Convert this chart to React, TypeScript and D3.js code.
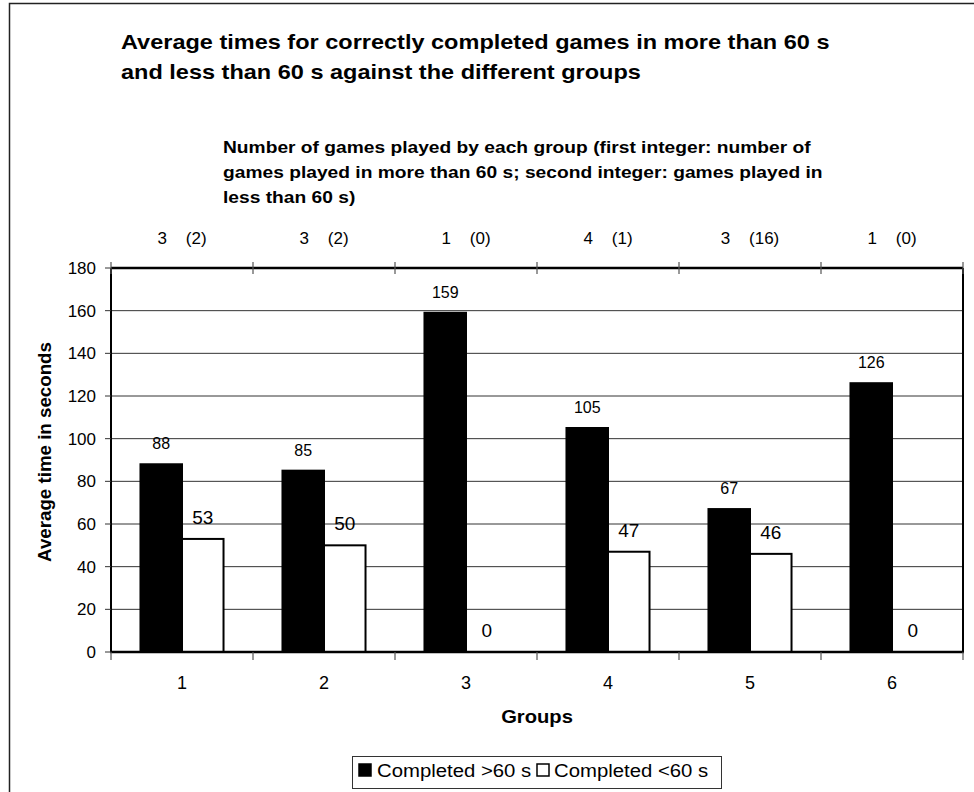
import React from "react";
import * as d3 from "d3";

// chart values
const groups = ["1", "2", "3", "4", "5", "6"];
const seriesNames = ["Completed >60 s", "Completed <60 s"];
const over60 = [88, 85, 159, 105, 67, 126];
const under60 = [53, 50, 0, 47, 46, 0];
const gamesOver = [3, 3, 1, 4, 3, 1];
const gamesUnder = [2, 2, 0, 1, 16, 0];
const yTicks = [0, 20, 40, 60, 80, 100, 120, 140, 160, 180];

const titleLines = [
  "Average times for correctly completed games in more than 60 s",
  "and less than 60 s against the different groups",
];
const subtitleLines = [
  "Number of games played by each group (first integer: number of",
  "games played in more than 60 s; second integer: games played in",
  "less than 60 s)",
];

const W = 974;
const H = 792;
const plot = { left: 111, right: 963, top: 268, bottom: 652 };
const font = "Arial, 'Liberation Sans', Helvetica, sans-serif";

// the source renders its word labels a little wider than Arial, so stretch them in x
const Wide: React.FC<{
  x: number;
  y: number;
  sx: number;
  size: number;
  bold?: boolean;
  anchor?: "start" | "middle" | "end";
  rotate?: number;
  children: React.ReactNode;
}> = ({ x, y, sx, size, bold, anchor = "start", rotate = 0, children }) => (
  <text
    transform={`translate(${x},${y}) rotate(${rotate}) scale(${sx},1)`}
    fontSize={size}
    fontWeight={bold ? "bold" : "normal"}
    textAnchor={anchor}
    fill="#000"
  >
    {children}
  </text>
);

const App: React.FC = () => {
  const x = d3.scaleBand<string>().domain(groups).range([plot.left, plot.right]).padding(0);
  const inner = d3
    .scaleBand<string>()
    .domain(seriesNames)
    .range([0, x.bandwidth()])
    .paddingInner(0)
    .paddingOuter(0.71);
  const y = d3.scaleLinear().domain([0, 180]).range([plot.bottom, plot.top]);

  const bars = groups.flatMap((g, i) => [
    { g, s: seriesNames[0], v: over60[i] },
    { g, s: seriesNames[1], v: under60[i] },
  ]);

  const boundaries = d3.range(groups.length + 1).map((i) => plot.left + i * x.step());

  return (
    <svg
      width={W}
      height={H}
      style={{ position: "absolute", left: 0, top: 0, background: "#fff" }}
      fontFamily={font}
    >
      <rect x={9.5} y={3.5} width={1000} height={1000} fill="#fff" stroke="#222" strokeWidth={1.5} />

      {/* titles */}
      {titleLines.map((t, i) => (
        <Wide key={t} x={121} y={49 + i * 30} sx={1.12} size={21} bold>
          {t}
        </Wide>
      ))}
      {subtitleLines.map((t, i) => (
        <Wide key={t} x={223} y={153 + i * 25} sx={1.13} size={17} bold>
          {t}
        </Wide>
      ))}

      {/* grid */}
      {yTicks
        .filter((t) => t > 0 && t < 180)
        .map((t) => (
          <line key={t} x1={plot.left} x2={plot.right} y1={y(t)} y2={y(t)} stroke="#333" strokeWidth={1} />
        ))}

      {/* bars */}
      {bars.map((b) => {
        const bx = (x(b.g) ?? 0) + (inner(b.s) ?? 0);
        const black = b.s === seriesNames[0];
        return (
          <g key={b.g + b.s}>
            <rect
              x={bx}
              y={y(b.v)}
              width={inner.bandwidth()}
              height={plot.bottom - y(b.v)}
              fill={black ? "#000" : "#fff"}
              stroke="#000"
              strokeWidth={2}
            />
            <text
              x={bx + inner.bandwidth() / 2}
              y={y(b.v) - 15}
              textAnchor="middle"
              fontSize={black ? 16 : 19}
              fill="#000"
            >
              {b.v}
            </text>
          </g>
        );
      })}

      {/* axes frame */}
      <line x1={plot.left} x2={plot.left} y1={plot.top} y2={plot.bottom} stroke="#000" strokeWidth={2} />
      <line x1={plot.right} x2={plot.right} y1={plot.top} y2={plot.bottom} stroke="#000" strokeWidth={2} />
      <line x1={plot.left} x2={plot.right} y1={plot.top} y2={plot.top} stroke="#000" strokeWidth={2.5} />
      <line x1={plot.left - 1} x2={plot.right + 1} y1={plot.bottom} y2={plot.bottom} stroke="#000" strokeWidth={2.5} />

      {/* y ticks */}
      {yTicks.map((t) => (
        <g key={t}>
          <line x1={plot.left - 6} x2={plot.left} y1={y(t)} y2={y(t)} stroke="#333" strokeWidth={1} />
          <text x={96} y={y(t) + 6} textAnchor="end" fontSize={17} fill="#000">
            {t}
          </text>
        </g>
      ))}

      {/* category ticks, bottom and top */}
      {boundaries.map((bx) => (
        <g key={bx}>
          <line x1={bx} x2={bx} y1={plot.bottom} y2={plot.bottom + 8} stroke="#555" strokeWidth={1.2} />
          <line x1={bx} x2={bx} y1={plot.top - 6} y2={plot.top + 6} stroke="#555" strokeWidth={1.2} />
        </g>
      ))}

      {/* bottom labels */}
      {groups.map((g) => (
        <text key={g} x={(x(g) ?? 0) + x.bandwidth() / 2} y={689} textAnchor="middle" fontSize={18} fill="#000">
          {g}
        </text>
      ))}

      {/* top labels */}
      {groups.map((g, i) => (
        <text
          key={g}
          x={(x(g) ?? 0) + x.bandwidth() / 2}
          y={244}
          textAnchor="middle"
          fontSize={17}
          fill="#000"
          style={{ whiteSpace: "pre" }}
        >
          {`${gamesOver[i]}    (${gamesUnder[i]})`}
        </text>
      ))}

      {/* axis titles */}
      <Wide x={(plot.left + plot.right) / 2} y={723} sx={1.12} size={18} bold anchor="middle">
        Groups
      </Wide>
      <Wide x={51} y={452} sx={1.04} size={18} bold anchor="middle" rotate={-90}>
        Average time in seconds
      </Wide>

      {/* legend */}
      <rect x={352.5} y={756.5} width={369} height={32} fill="#fff" stroke="#333" strokeWidth={1} />
      <rect x={359} y={764} width={12} height={12} fill="#000" stroke="#000" strokeWidth={1.5} />
      <Wide x={377} y={777} sx={1.13} size={18}>
        {seriesNames[0]}
      </Wide>
      <rect x={537} y={764} width={12} height={12} fill="#fff" stroke="#000" strokeWidth={1.5} />
      <Wide x={554} y={777} sx={1.13} size={18}>
        {seriesNames[1]}
      </Wide>
    </svg>
  );
};

export default App;
